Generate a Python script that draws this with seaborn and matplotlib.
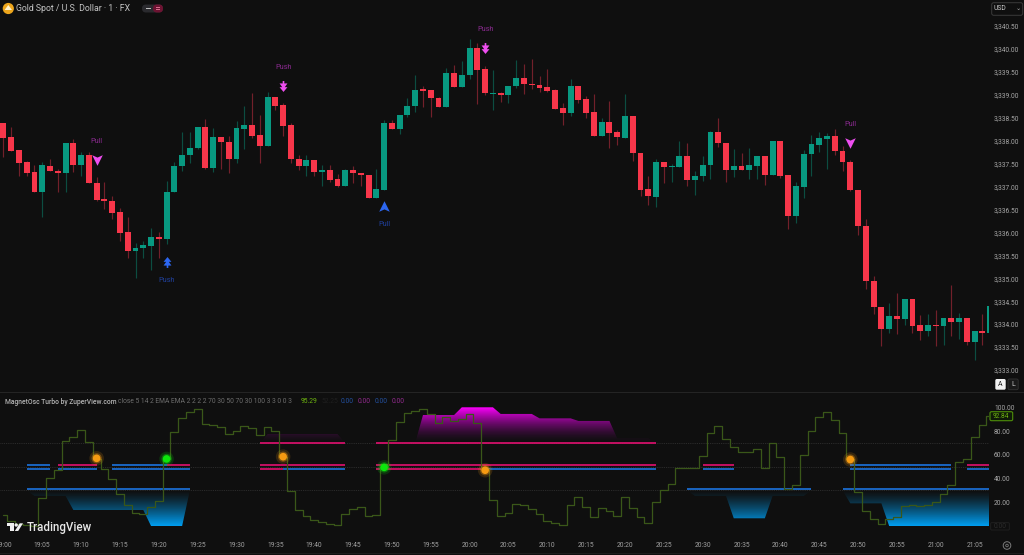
import numpy as np
import pandas as pd
import seaborn as sns
import matplotlib
matplotlib.use("Agg")
import matplotlib.pyplot as plt
from matplotlib.path import Path
from matplotlib.patches import Rectangle, Polygon, FancyBboxPatch, Ellipse
from matplotlib.transforms import Affine2D
from matplotlib.ticker import FuncFormatter, FixedLocator

PRICE_BASE = 3330
opens = [8.39,8.07,7.79,7.53,7.31,6.89,7.45,7.33,7.29,7.95,7.46,7.68,7.08,6.72,6.69,6.44,6.00,5.60,5.66,5.71,5.90,5.85,6.89,7.44,7.68,7.84,8.30,7.41,8.08,7.97,7.59,8.26,8.34,8.13,7.89,8.95,8.78,8.34,7.61,7.45,7.57,7.31,7.37,7.16,
 7.02,7.37,7.29,7.26,6.76,6.92,8.39,8.25,8.55,8.75,9.12,9.10,8.94,8.74,9.47,9.18,9.43,10.03,9.56,9.02,9.05,9.00,9.19,9.36,9.24,9.21,9.17,9.10,8.71,8.60,9.19,8.90,8.62,8.10,8.41,8.18,8.06,8.53,7.74,6.94,6.78,7.54,7.42,7.42,
 7.67,7.15,7.22,7.47,8.18,7.95,7.37,7.45,7.37,7.45,7.67,7.25,7.99,7.25,6.36,7.00,7.70,7.91,8.04,8.10,7.77,7.54,6.93,6.15,4.93,4.37,3.89,4.18,4.11,4.54,3.97,3.85,3.98,3.95,4.13,4.05,4.13,3.62,3.85,3.80]
highs = [8.39,8.29,7.79,7.56,7.46,7.54,7.60,7.39,7.95,8.04,7.76,7.75,7.20,7.09,6.80,6.53,6.34,5.76,5.82,6.10,6.01,7.12,7.54,8.18,8.18,8.30,8.48,8.27,8.08,8.10,8.43,8.76,9.05,8.57,9.06,8.95,8.83,8.39,7.69,7.69,7.58,7.46,7.46,7.28,
 7.38,7.45,7.29,7.26,7.38,8.46,8.45,8.56,8.94,9.43,9.19,9.10,8.96,9.58,9.65,9.73,10.22,10.14,9.63,9.54,9.07,9.20,9.76,9.68,9.78,9.42,9.56,9.12,8.83,9.34,9.19,8.97,9.02,8.49,8.86,8.23,9.02,8.53,7.74,7.24,7.61,7.54,7.50,7.99,
 7.94,7.34,7.67,8.21,8.49,7.95,7.81,7.74,7.85,7.67,7.67,8.00,7.99,7.25,7.09,7.80,8.12,8.19,8.16,8.26,7.89,7.58,6.93,6.30,5.05,4.37,4.46,4.67,4.55,4.54,4.19,4.21,4.30,4.13,4.85,4.25,4.13,3.85,4.22,4.40]
lows = [7.65,7.78,7.24,7.24,6.89,6.33,7.33,6.89,6.88,7.32,7.23,7.07,6.69,6.52,6.30,5.82,5.44,5.01,5.45,5.18,5.45,5.74,6.88,7.34,7.51,7.81,7.39,7.31,7.39,7.29,7.52,7.82,8.06,7.52,7.89,8.67,8.10,7.52,7.37,7.22,7.23,7.02,7.11,7.00,
 7.02,7.08,7.02,6.76,6.76,6.92,8.25,8.14,8.51,8.63,8.73,8.51,8.74,8.74,9.18,9.18,9.34,8.81,9.00,8.68,8.84,8.83,9.15,9.01,9.12,9.07,9.06,8.70,8.35,8.54,8.83,8.50,8.10,8.10,7.83,7.91,8.06,7.56,6.80,6.59,6.56,7.07,7.10,7.42,
 7.02,6.82,7.13,7.16,7.87,7.11,7.20,7.37,7.17,7.17,7.03,7.25,7.19,6.07,6.21,6.75,7.24,7.76,7.39,7.69,7.33,6.90,5.94,4.77,4.23,3.53,3.80,3.78,3.98,3.81,3.65,3.73,3.53,3.55,3.73,3.67,3.55,3.22,3.54,3.80]
closes = [8.05,7.78,7.52,7.30,6.89,7.46,7.33,7.30,7.95,7.46,7.68,7.07,6.70,6.69,6.43,5.99,5.60,5.67,5.72,5.90,5.85,6.89,7.45,7.68,7.85,8.30,7.41,8.08,7.97,7.59,8.27,8.34,8.11,7.89,8.95,8.76,8.33,7.60,7.45,7.57,7.31,7.37,7.15,7.02,
 7.37,7.29,7.25,6.76,6.94,8.39,8.25,8.56,8.76,9.11,9.09,8.93,8.74,9.47,9.18,9.44,10.03,9.55,9.03,9.05,8.99,9.20,9.36,9.23,9.21,9.15,9.09,8.70,8.60,9.19,8.89,8.61,8.10,8.41,8.17,8.07,8.53,7.73,6.92,6.79,7.54,7.42,7.44,7.66,
 7.15,7.23,7.47,8.18,7.94,7.37,7.45,7.37,7.46,7.67,7.25,7.99,7.23,6.36,7.01,7.71,7.93,8.05,8.10,7.77,7.54,6.92,6.15,4.93,4.37,3.89,4.18,4.11,4.54,3.96,3.85,3.97,3.95,4.13,4.05,4.13,3.62,3.85,3.80,4.40]

oscillator = [9.5,4.5,1.5,0.6,0.4,23.3,40.2,47.2,71.6,74.7,80.6,70.8,56.5,48.0,39.3,26.7,17.7,10.7,9.8,16.3,21.1,56.5,79.5,90.7,96.3,98.9,86.0,84.8,83.1,77.2,80.3,84.3,82.3,76.4,83.1,80.3,58.4,29.8,13.5,8.4,5.1,3.4,1.4,0.6,
 9.8,14.3,15.7,8.4,9.3,49.4,72.5,87.4,94.9,97.2,98.9,94.7,86.5,91.6,88.2,90.2,94.7,86.5,47.8,21.6,8.7,10.7,18.5,17.4,14.6,10.1,4.5,2.2,0.6,17.7,24.2,15.7,7.3,14.9,12.9,8.1,24.7,15.2,7.6,2.8,19.9,30.1,35.1,48.6,
 48.6,49.2,59.3,78.7,84.6,73.0,66.9,62.1,62.6,64.6,48.6,69.7,58.4,31.2,34.8,59.6,80.3,91.6,96.3,89.3,78.1,56.5,28.4,12.9,5.6,1.7,5.6,7.9,16.9,17.7,16.6,17.7,19.9,27.0,34.8,53.7,56.5,74.7,85.4,92.84]

lower_fill_bars = [3,4,8,9,18,19,23,24, 88,89,93,94,98,99,103,104, 108,109,113,114,127]
lower_fill_vals = [30,25.3,25.3,13.5,13.5,0,0,30, 30,25.3,25.3,6.5,6.5,25.3,25.3,30, 30,19.1,19.1,0,0]
upper_fill_bars = [33,34,43,44, 53,54,58,59,63,64,68,69,73,74,78,79,83,84]
upper_fill_vals = [70,77.5,77.5,70, 70,93.5,93.5,100,100,94.4,94.4,90.7,90.7,88.5,88.5,73.9,73.9,70]

BLUE_LINE = "#1b6fd6"
PINK_LINE = "#d9106c"
upper_band = [(3,6,51.4,BLUE_LINE),(7,12,51.4,PINK_LINE),(14,21,51.4,BLUE_LINE),(21,24,51.4,PINK_LINE),(33,44,51.4,PINK_LINE),
              (48,84,51.4,PINK_LINE),(90,94,51.4,PINK_LINE),(109,122,51.4,BLUE_LINE),(124,127,51.4,PINK_LINE)]
lower_band = [(3,6,48.3,BLUE_LINE),(7,12,48.3,BLUE_LINE),(14,24,48.3,BLUE_LINE),(33,36,48.3,PINK_LINE),(36,44,48.3,BLUE_LINE),
              (48,62,48.3,PINK_LINE),(62,84,48.3,BLUE_LINE),(90,94,48.3,BLUE_LINE),(109,122,48.3,BLUE_LINE),(124,127,48.3,BLUE_LINE)]
high_band = [(33,44,69.6,PINK_LINE),(48,84,69.6,PINK_LINE)]
low_band = [(3,24,30.8,BLUE_LINE),(88,104,30.8,BLUE_LINE),(108,127,30.8,BLUE_LINE)]

dot_bars = [12,21,36,49,62,109]
dot_vals = [57.0,56.5,58.4,49.4,47.0,56.0]
dot_kinds = ["orange","green","orange","green","orange","orange"]

signal_bars = [12,21,36,49,62,109]
signal_prices = [7.58,5.35,9.19,6.58,10.02,7.95]
signal_text = ["Pull","Push","Push","Pull","Push","Pull"]
signal_dir = ["down","up","down","up","down","down"]

time_labels = ["19:00","19:05","19:10","19:15","19:20","19:25","19:30","19:35","19:40","19:45","19:50","19:55","20:00",
               "20:05","20:10","20:15","20:20","20:25","20:30","20:35","20:40","20:45","20:50","20:55","21:00","21:05"]
price_ticks = [3333 + 0.5 * k for k in range(16)]
osc_ticks = [20, 40, 60, 80, 100]

W, H = 1024, 555
BG = "#0f0f0f"
FONT = "Roboto"
sns.set_theme(style="dark", rc={"axes.facecolor": BG, "figure.facecolor": BG, "savefig.facecolor": BG,
                                "axes.grid": False, "font.family": FONT})
plt.rcParams["font.family"] = [FONT, "DejaVu Sans"]
fig = plt.figure(figsize=(W / 100, H / 100), dpi=100)

def axbox(x0, y0, x1, y1):
    return [x0 / W, 1 - y1 / H, (x1 - x0) / W, (y1 - y0) / H]

ax = fig.add_axes(axbox(0, 0, 989, 392))
osc = fig.add_axes(axbox(0, 392, 989, 533))
XMIN, XMAX = -0.44, 126.85
df = pd.DataFrame({"bar": np.arange(len(opens)), "open": np.array(opens) + PRICE_BASE, "high": np.array(highs) + PRICE_BASE,
                   "low": np.array(lows) + PRICE_BASE, "close": np.array(closes) + PRICE_BASE, "osc": oscillator})
up = df["close"] >= df["open"]
GREEN, RED = "#089981", "#f7364a"
GREEN_W, RED_W = "#0c4d41", "#72202a"

# ---- candles
ax.vlines(df["bar"], df["low"], df["high"], colors=np.where(up, GREEN_W, RED_W), lw=0.85, zorder=2)
ax.bar(df["bar"], (df["close"] - df["open"]).abs().clip(lower=0.03), bottom=df[["open", "close"]].min(axis=1), width=0.76,
       color=np.where(up, GREEN, RED), linewidth=0, zorder=3)

# ---- signals
chev_up = Path([(0, 1), (1, -1), (0, -0.55), (-1, -1), (0, 1)], [1, 2, 2, 2, 79])
chev_dn = Path([(0, -1), (1, 1), (0, 0.55), (-1, 1), (0, -1)], [1, 2, 2, 2, 79])
tree = [(0, 1), (.72, .12), (.24, .12), (.72, -.56), (.15, -.56), (.15, -1), (-.15, -1), (-.15, -.56),
        (-.72, -.56), (-.24, .12), (-.72, .12), (0, 1)]
dbl_up = Path(tree, [1] + [2] * 10 + [79])
dbl_dn = Path([(x, -y) for x, y in tree], [1] + [2] * 10 + [79])
for b, p, t, d in zip(signal_bars, signal_prices, signal_text, signal_dir):
    col = "#2c66f0" if d == "up" else "#ee4ef0"
    tcol = "#20409c" if d == "up" else "#8b2a90"
    if t == "Pull":
        mk, size = (chev_up if d == "up" else chev_dn), 58
    else:
        mk, size = (dbl_up if d == "up" else dbl_dn), 62
    sns.scatterplot(x=[b], y=[p + PRICE_BASE], marker=mk, s=size, color=col, linewidth=0, ax=ax, zorder=5, legend=False)
    off = -13.5 if d == "up" else 13.5
    ax.annotate(t, (b, p + PRICE_BASE), xytext=(0, off), textcoords="offset points", ha="center", va="center",
                color=tcol, fontsize=5.3, zorder=5)

ax.set_xlim(XMIN, XMAX)
ax.set_ylim(8 + (140.7 - 392) / 45.85 + PRICE_BASE, 8 + 140.7 / 45.85 + PRICE_BASE)
ax.yaxis.tick_right()
ax.yaxis.set_major_locator(FixedLocator(price_ticks))
ax.yaxis.set_major_formatter(FuncFormatter(lambda v, _: f"{v:,.2f}"))
ax.set_xticks([])

# ---- oscillator
def gradient_fill(bars, vals, rgb, v_clear, v_full, gamma):
    poly = osc.fill_between(bars, vals, v_clear, color="none", linewidth=0)
    img = np.zeros((256, 1, 4))
    img[..., 0], img[..., 1], img[..., 2] = rgb
    img[..., 3] = (np.linspace(0, 1, 256) ** gamma)[:, None]
    lo, hi = min(v_clear, v_full), max(v_clear, v_full)
    origin = "lower" if v_full > v_clear else "upper"
    im = osc.imshow(img, extent=[XMIN, XMAX, lo, hi], aspect="auto", origin=origin, zorder=1, interpolation="bilinear")
    im.set_clip_path(Path.make_compound_path(*poly.get_paths()), transform=osc.transData)

AZURE, MAGENTA = (0.0, 0.63, 0.96), (1.0, 0.0, 1.0)
gradient_fill(lower_fill_bars[:8], lower_fill_vals[:8], AZURE, 30, 0, 1.3)
gradient_fill(lower_fill_bars[8:16], lower_fill_vals[8:16], AZURE, 30, 0, 1.3)
gradient_fill(lower_fill_bars[16:], lower_fill_vals[16:], AZURE, 30, 0, 1.3)
gradient_fill(upper_fill_bars[:4], upper_fill_vals[:4], MAGENTA, 70, 100, 1.6)
gradient_fill(upper_fill_bars[4:], upper_fill_vals[4:], MAGENTA, 70, 100, 1.6)

for lvl in (70, 50, 30):
    osc.axhline(lvl, color="#353535", lw=0.6, ls=(0, (1, 1.2)), zorder=2)
for seg in upper_band + lower_band + high_band + low_band:
    osc.hlines(seg[2], seg[0], seg[1], colors=seg[3], lw=1.25, zorder=3)

sns.lineplot(data=df, x="bar", y="osc", color="#3a5719", lw=0.9, drawstyle="steps-mid", estimator=None, ax=osc, zorder=4)

dots = pd.DataFrame({"bar": dot_bars, "val": dot_vals, "kind": dot_kinds})
palette_dots = {"orange": "#f59a12", "green": "#0ce60c"}
for size, alpha, z in ((110, 0.16, 5), (55, 0.35, 6), (30, 1.0, 7)):
    sns.scatterplot(data=dots, x="bar", y="val", hue="kind", palette=palette_dots, s=size, alpha=alpha,
                    linewidth=0, ax=osc, zorder=z, legend=False)

osc.set_xlim(XMIN, XMAX)
osc.set_ylim((526 - 533) / 1.187, (526 - 392) / 1.187)
osc.yaxis.tick_right()
osc.yaxis.set_major_locator(FixedLocator(osc_ticks))
osc.yaxis.set_major_formatter(FuncFormatter(lambda v, _: f"{v:.2f}"))
osc.set_xticks(np.arange(len(time_labels)) * 5)
osc.set_xticklabels(time_labels)
osc.set_xlabel(""); osc.set_ylabel(""); ax.set_xlabel(""); ax.set_ylabel("")

for a in (ax, osc):
    a.set_facecolor(BG)
    for s in a.spines.values():
        s.set_visible(False)
    a.tick_params(axis="y", length=0, pad=3.6, labelsize=4.8, labelcolor="#a8a8a8")
    a.tick_params(axis="x", length=0, pad=6.8, labelsize=4.9, labelcolor="#a0a0a0")

# ---- chrome in pixel coordinates
def P(x, y):
    return (x / W, 1 - y / H)
def txt(x, y, s, color="#b0b0b0", size=5, ha="left", **kw):
    fig.text(x / W, 1 - y / H, s, color=color, fontsize=size, ha=ha, va="center", **kw)
def rect(x0, y0, x1, y1, fc, ec="none", lw=0, z=10):
    fig.add_artist(Rectangle(P(x0, y1), (x1 - x0) / W, (y1 - y0) / H, transform=fig.transFigure, fc=fc, ec=ec, lw=lw, zorder=z))
def rrect(x0, y0, x1, y1, fc, ec="none", lw=0, r=2, z=10):
    fig.add_artist(FancyBboxPatch((x0, H - y1), x1 - x0, y1 - y0, boxstyle=f"round,pad=0,rounding_size={r}", fc=fc, ec=ec, lw=lw,
                                  zorder=z, transform=Affine2D().scale(1 / W, 1 / H) + fig.transFigure))
def poly(pts, fc, z=11):
    fig.add_artist(Polygon([P(*p) for p in pts], closed=True, transform=fig.transFigure, fc=fc, ec="none", zorder=z))
def circ(cx, cy, r, fc, ec="none", lw=0, z=11):
    fig.add_artist(Ellipse(P(cx, cy), 2 * r / W, 2 * r / H, transform=fig.transFigure, fc=fc, ec=ec, lw=lw, zorder=z))

rect(0, 391.6, W, 392.6, "#242424", z=1)
rect(0, 552.8, W, 553.8, "#1d1d1d", z=1)

# title row
circ(8.3, 8.5, 5.6, "#eda61c")
poly([(8.3, 5), (12, 10), (4.6, 10)], "#fff2cc", z=12)
txt(16.5, 8.5, "Gold Spot / U.S. Dollar · 1 · FX", "#c4c4c4", 6.3)
rrect(142, 4.5, 163, 12.5, "#2a2a2e", r=4)
rrect(153, 4.5, 163, 12.5, "#6d1332", r=4, z=11)
rect(145.5, 8, 151, 9.2, "#bdbdbd", z=12)
rect(155.5, 7, 160, 7.9, "#d66a8a", z=12)
rect(155.5, 9.3, 160, 10.2, "#d66a8a", z=12)

# USD / A / L
rrect(991.7, 2.7, 1022.7, 15.3, BG, "#3a3a3a", 0.7, r=2)
txt(993.5, 9, "USD", "#c8c8c8", 4.9, zorder=12)
txt(1018.3, 8.5, "⌄", "#b0b0b0", 4.5, ha="center", family="DejaVu Sans", zorder=12)
rrect(995.3, 379, 1005.7, 389.7, "#f2f2f2", r=1.5)
txt(1000.5, 384.5, "A", "#222222", 5, ha="center", zorder=12)
rrect(1008, 379, 1018.2, 389.7, "#191919", "#333333", 0.6, r=1.5)
txt(1013.1, 384.5, "L", "#c8c8c8", 5, ha="center", zorder=12)

# indicator legend
txt(5, 401.5, "MagnetOsc Turbo by ZuperView.com", "#b4b4b4", 4.9, fontweight="medium")
txt(118, 401.5, "close 5 14 2 EMA EMA 2 2 2 2 70 30 50 70 30 100 3 3 0 0 3", "#6d6d6d", 4.9)
txt(301, 401.5, "95.29", "#6fb510", 4.9)
txt(322, 401.5, "52.25", "#1f1f1f", 4.9)
for x, c in zip((341, 358, 375, 391.5), ("#23509f", "#922a8e", "#23509f", "#922a8e")):
    txt(x, 401.5, "0.00", c, 4.9)

# price tags
rrect(990, 411.7, 1012.7, 420.7, "#0f1a08", "#4f8f0a", 0.8, r=1.5)
txt(1001.3, 416.3, "92.84", "#6fb510", 4.7, ha="center", zorder=12)
rrect(990.7, 522.7, 1009.3, 530, BG, "#222222", 0.6, r=1)
txt(1000, 526.4, "0.00", "#2c2c2c", 4.7, ha="center", zorder=12)

# gear icon
circ(1007, 545.5, 3.8, "none", "#7a7a7a", 0.7)
circ(1007, 545.5, 1.3, "none", "#7a7a7a", 0.6)

# TradingView watermark
rect(6.7, 523.3, 14.2, 526.2, "#f0f0f0", z=12)
rect(10.3, 523.3, 14.2, 531, "#f0f0f0", z=12)
circ(16.2, 525, 1.7, "#f0f0f0", z=12)
poly([(19.7, 523.3), (23, 523.3), (18.2, 531), (14.8, 531)], "#f0f0f0", z=12)
txt(26.5, 527.3, "TradingView", "#e8e8e8", 8.3, fontweight="medium", zorder=12)

fig.savefig("out.png", dpi=100, facecolor=BG)
